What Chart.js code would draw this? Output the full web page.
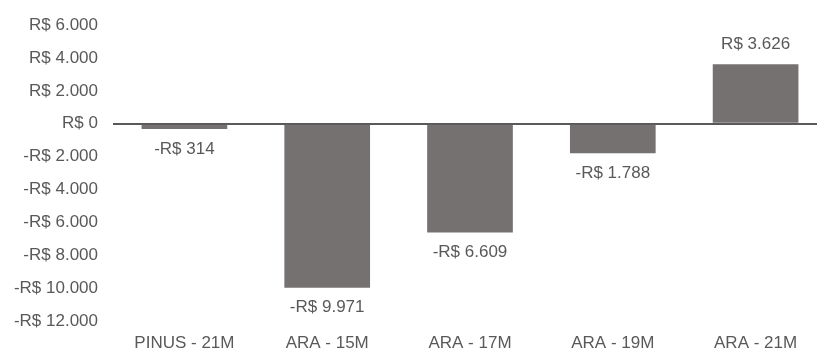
<!DOCTYPE html>
<html>
<head>
<meta charset="utf-8">
<script src="https://cdn.jsdelivr.net/npm/chart.js@4"></script>
<style>
  html, body { margin: 0; padding: 0; background: #fff; overflow: hidden; }
  #wrap { width: 827px; height: 351px; position: relative; }
</style>
</head>
<body>
<div id="wrap"><canvas id="grafico"></canvas></div>
<script>
const categorias = ['PINUS - 21M', 'ARA - 15M', 'ARA - 17M', 'ARA - 19M', 'ARA - 21M'];
const resultados = [-314, -9971, -6609, -1788, 3626];
const eixoMin = -12000;
const eixoMax = 6000;
const eixoPasso = 2000;

function formatarReais(v) {
  const abs = Math.abs(Math.round(v)).toString().replace(/\B(?=(\d{3})+(?!\d))/g, '.');
  return (v < 0 ? '-' : '') + 'R$ ' + abs;
}

const corTexto = '#595959';
const fonte = { family: '"Liberation Sans", Arial, sans-serif', size: 17 };

const rotulosBarras = {
  id: 'rotulosBarras',
  afterDatasetsDraw(chart) {
    const ctx = chart.ctx;
    const meta = chart.getDatasetMeta(0);
    ctx.save();
    ctx.font = fonte.size + 'px ' + fonte.family;
    ctx.fillStyle = corTexto;
    ctx.textAlign = 'center';
    ctx.textBaseline = 'middle';
    meta.data.forEach((bar, i) => {
      const v = resultados[i];
      const y = v < 0 ? bar.y + 20 : bar.y - 20;
      ctx.fillText(formatarReais(v), bar.x, y);
    });
    ctx.restore();
  }
};

new Chart(document.getElementById('grafico'), {
  type: 'bar',
  data: {
    labels: categorias,
    datasets: [{
      data: resultados,
      backgroundColor: '#767171',
      borderWidth: 0,
      categoryPercentage: 1,
      barPercentage: 0.6
    }]
  },
  options: {
    responsive: true,
    maintainAspectRatio: false,
    animation: false,
    layout: { padding: { top: 19, right: 0, bottom: 0, left: 0 } },
    plugins: { legend: { display: false }, tooltip: { enabled: false } },
    scales: {
      x: {
        grid: { display: false },
        border: { display: false },
        ticks: { color: corTexto, font: fonte, padding: 4, maxRotation: 0 },
        afterFit(scale) { scale.height = 30; }
      },
      y: {
        min: eixoMin,
        max: eixoMax,
        border: { display: false },
        grid: {
          drawTicks: false,
          color: ctx => ctx.tick && ctx.tick.value === 0 ? '#595959' : 'rgba(0,0,0,0)',
          lineWidth: 2
        },
        ticks: {
          stepSize: eixoPasso,
          color: corTexto,
          font: fonte,
          padding: 15,
          callback: v => formatarReais(v)
        },
        afterFit(scale) { scale.width = 113; }
      }
    }
  },
  plugins: [rotulosBarras]
});
</script>
</body>
</html>
